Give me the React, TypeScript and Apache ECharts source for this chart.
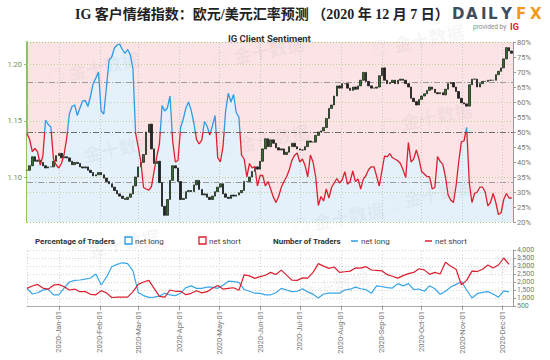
import React, { useEffect, useRef } from 'react';
import * as echarts from 'echarts';

const TITLE = 'IG 客户情绪指数：欧元/美元汇率预测 （2020 年 12 月 7 日）';
const SUBTITLE = 'IG Client Sentiment';
const RANGE_START = '2019-12-08';
const RANGE_END = '2020-12-09';
const MONTH_STARTS = ['2020-01-01', '2020-02-01', '2020-03-01', '2020-04-01', '2020-05-01', '2020-06-01', '2020-07-01', '2020-08-01', '2020-09-01', '2020-10-01', '2020-11-01', '2020-12-01'];
const MONTH_LABELS = ['2020-Jan-01', '2020-Feb-01', '2020-Mar-01', '2020-Apr-01', '2020-May-01', '2020-Jun-01', '2020-Jul-01', '2020-Aug-01', '2020-Sep-01', '2020-Oct-01', '2020-Nov-01', '2020-Dec-01'];

// sentiment + price sampled every 2 days from SENT_START
const SENT_START = '2019-12-08';
const SENT_STEP = 2;
const NET_LONG_PCT = [
  49.5, 47.5, 43.5, 44.5, 43.4, 39, 42, 54, 52.5, 51.7,
  41, 39, 38, 39.5, 42.5, 48, 56, 58.5, 59, 55.5,
  58, 60.3, 60.5, 58.5, 62, 66.2, 68, 70, 57, 56,
  65, 74, 75, 78, 79, 79.3, 77.5, 76.2, 77.5, 75.8,
  71, 49.6, 45, 40, 31.5, 31, 30.6, 31.8, 37, 41.8,
  46, 58.8, 57, 58, 62, 47, 40, 40.5, 51.5, 54.3,
  58, 60, 57.2, 53, 47.5, 46, 47.3, 53.5, 52, 49,
  52, 55.5, 41.5, 40, 45, 57, 62.9, 60, 62.5, 56.5,
  55, 42.3, 41, 35, 39.5, 38, 38.5, 32, 35.5, 35.5,
  32, 33.5, 31, 28.3, 26.5, 28.5, 31.5, 33.5, 35, 37.3,
  40.5, 42.2, 43, 40, 41, 38.8, 35, 42.3, 40, 35,
  25.5, 28.5, 27, 31, 28, 31.5, 33, 34.5, 33, 34,
  36.8, 32.6, 33.5, 37, 33.5, 34.3, 31, 34.3, 35.5, 37.5,
  38.4, 38.4, 35.3, 32, 37, 42, 41.7, 42.8, 41.4, 40.9,
  40.4, 39.5, 37.3, 34.8, 46.5, 40, 41, 44, 41, 36.8,
  36, 35.2, 35, 31, 31.5, 41.8, 40.2, 39.2, 35, 29,
  27.3, 26.5, 32, 40, 46.7, 47, 51.5, 33, 26.5, 29.5,
  30, 31.6, 31.6, 30, 25.4, 26.5, 29.5, 26.5, 22.5, 23,
  27.5, 29.5, 28, 28,
];
const EURUSD_CLOSE = [
  1.106, 1.110, 1.118, 1.114, 1.115, 1.113, 1.110, 1.108, 1.109, 1.109,
  1.114, 1.119, 1.121, 1.117, 1.118, 1.117, 1.114, 1.111, 1.113, 1.112,
  1.109, 1.108, 1.109, 1.106, 1.104, 1.101, 1.102, 1.104, 1.102, 1.099,
  1.096, 1.094, 1.091, 1.088, 1.085, 1.083, 1.081, 1.080, 1.082, 1.085,
  1.092, 1.100, 1.109, 1.113, 1.120, 1.140, 1.147, 1.125, 1.112, 1.114,
  1.095, 1.074, 1.066, 1.080, 1.097, 1.110, 1.108, 1.096, 1.080, 1.081,
  1.087, 1.088, 1.087, 1.093, 1.097, 1.089, 1.084, 1.085, 1.082, 1.080,
  1.083, 1.087, 1.091, 1.094, 1.085, 1.082, 1.081, 1.084, 1.083, 1.084,
  1.086, 1.088, 1.096, 1.096, 1.100, 1.105, 1.109, 1.107, 1.114, 1.125,
  1.134, 1.127, 1.133, 1.130, 1.126, 1.124, 1.125, 1.120, 1.122, 1.127,
  1.130, 1.127, 1.125, 1.124, 1.124, 1.127, 1.132, 1.131, 1.131, 1.137,
  1.140, 1.141, 1.144, 1.152, 1.161, 1.164, 1.172, 1.181, 1.179, 1.183,
  1.183, 1.179, 1.177, 1.180, 1.178, 1.181, 1.186, 1.193, 1.185, 1.181,
  1.179, 1.179, 1.180, 1.190, 1.197, 1.186, 1.183, 1.184, 1.186, 1.183,
  1.186, 1.187, 1.186, 1.183, 1.180, 1.170, 1.167, 1.164, 1.169, 1.172,
  1.174, 1.177, 1.180, 1.178, 1.175, 1.174, 1.175, 1.173, 1.178, 1.183,
  1.184, 1.180, 1.176, 1.170, 1.166, 1.165, 1.163, 1.182, 1.187, 1.187,
  1.180, 1.183, 1.185, 1.185, 1.186, 1.186, 1.186, 1.191, 1.194, 1.197,
  1.205, 1.215, 1.212, 1.210,
];

// number of traders sampled every 4 days from TRADERS_START
const TRADERS_START = '2019-12-08';
const TRADERS_STEP = 4;
const NET_LONG_TRADERS = [
  1604, 1250, 1330, 1490, 1560, 1190, 1190, 1620, 2000, 2100,
  2125, 2180, 2250, 2500, 1812, 2300, 2950, 3100, 3200, 3150,
  2700, 1350, 1150, 1040, 1050, 1120, 1300, 1190, 1150, 1300,
  1650, 1760, 1604, 1600, 1680, 1680, 1604, 1800, 2050, 2020,
  1980, 1530, 1420, 1300, 1290, 1200, 1200, 1330, 1600, 1500,
  1400, 1420, 1580, 1380, 1240, 1000, 1250, 1300, 1300, 1300,
  1500, 1550, 1680, 1580, 1520, 1292, 1760, 1720, 1650, 1620,
  1900, 1760, 1900, 1530, 1560, 1420, 1760, 1580, 1230, 1420,
  1690, 1850, 2020, 1500, 1000, 1270, 1350, 1396, 1250, 1050,
  1450, 1380,
];
const NET_SHORT_TRADERS = [
  1604, 1750, 1850, 1620, 1550, 1800, 1850, 1700, 1500, 1560,
  1396, 1400, 1230, 1200, 1450, 1320, 1030, 1060, 1050, 1050,
  1400, 1850, 2000, 2100, 1600, 1100, 1050, 1500, 1420, 1420,
  1210, 1292, 1450, 1320, 1396, 1604, 1780, 1560, 1604, 1640,
  1480, 2450, 2380, 2229, 2333, 2420, 2600, 2470, 2740, 2430,
  2120, 2100, 2260, 2240, 2600, 3150, 2990, 2854, 2940, 2600,
  2640, 2680, 2880, 2870, 2960, 2750, 2730, 2700, 2460, 2360,
  2240, 2400, 2520, 2600, 2830, 2760, 2480, 2600, 2500, 3240,
  2980, 2800, 1830, 2100, 2680, 2660, 2800, 3062, 2880, 3062,
  3500, 3100,
];

const PRICE_GRID = [1.10, 1.15, 1.20];
const PCT_DOTTED = [30, 60];
const PCT_THIRDS = [33.33, 66.67];
const PCT_MID = 50;
const LOGO_LETTERS = ['D', 'A', 'I', 'L', 'Y', 'F', 'X'];

const BLUE = '#2e9be6';
const RED = '#dc1f2e';

// days counted from 2019-12-01 (keeps every axis value positive)
const dayOf = (s: string) => {
  const [y, m, d] = s.split('-').map(Number);
  return (Date.UTC(y, m - 1, d) - Date.UTC(2019, 11, 1)) / 86400000;
};

export default function App() {
  const ref = useRef<HTMLDivElement>(null);
  useEffect(() => {
    if (!ref.current) return;
    const chart = echarts.init(ref.current, undefined, { renderer: 'svg' });
    const xMin = dayOf(RANGE_START);
    const xMax = dayOf(RANGE_END);
    const monthDays = MONTH_STARTS.map(dayOf);
    const s0 = dayOf(SENT_START);
    const t0 = dayOf(TRADERS_START);
    const pct = NET_LONG_PCT.map((v, i) => [s0 + i * SENT_STEP, v]);
    const candles = EURUSD_CLOSE.map((c, i) => {
      const o = i === 0 ? c : EURUSD_CLOSE[i - 1];
      return [s0 + i * SENT_STEP, o, c, Math.min(o, c), Math.max(o, c)];
    });
    const longT = NET_LONG_TRADERS.map((v, i) => [t0 + i * TRADERS_STEP, v]);
    const shortT = NET_SHORT_TRADERS.map((v, i) => [t0 + i * TRADERS_STEP, v]);
    const labelFor = (v: number) => {
      const i = monthDays.indexOf(Math.round(v));
      return i >= 0 ? MONTH_LABELS[i] : '';
    };
    const wm = (x: number, y: number) => ({
      type: 'text', x, y, rotation: 0.2, silent: true, z: 50,
      style: { text: '◎ 金十数据', fill: 'rgba(120,120,120,0.08)', font: 'bold 18px "Noto Sans CJK SC"' },
    });
    const txt = (x: number, y: number, text: string, font: string, fill: string, extra: any = {}) => ({
      type: 'text', x, y, silent: true, z: 100, ...extra,
      style: { text, font, fill, textVerticalAlign: 'middle' },
    });
    const dotted = (color: string) => ({ color, type: [1, 2], width: 1 });
    const dashDot = (color: string, width = 1) => ({ color, type: [6, 2, 1, 2], width });
    const logoX = [452, 466, 481, 488, 501, 516, 530];
    const logo = LOGO_LETTERS.map((ch, i) => txt(logoX[i], 14, ch, 'bold 15px "DejaVu Sans"', i < 5 ? '#3f4c5f' : '#f39a1e'));

    const option: any = {
      animation: false,
      backgroundColor: '#ffffff',
      grid: [
        { left: 27, top: 42, width: 486, height: 180, show: true, backgroundColor: '#fce3e6', borderWidth: 0 },
        { left: 27, top: 250, width: 486, height: 56, show: false },
      ],
      xAxis: [
        { type: 'value', gridIndex: 0, min: xMin, max: xMax, axisLine: { show: false }, axisTick: { show: false }, axisLabel: { show: false }, splitLine: { show: false } },
        {
          type: 'value', gridIndex: 1, min: xMin, max: xMax,
          axisLine: { show: true, lineStyle: { color: '#aaa', width: 1 } },
          axisTick: { show: true, customValues: monthDays, length: 4, lineStyle: { color: '#999' } },
          axisLabel: { show: true, customValues: monthDays, rotate: 90, fontSize: 7.5, color: '#777', fontFamily: 'Roboto', margin: 5, formatter: (v: number) => labelFor(v) },
          splitLine: { show: false },
        },
      ],
      yAxis: [
        {
          type: 'value', gridIndex: 0, position: 'left', min: 1.06, max: 1.22,
          axisLine: { show: true, lineStyle: { color: '#8fc166', width: 2 } },
          axisTick: { show: true, customValues: PRICE_GRID, length: 3, lineStyle: { color: '#8fc166' } },
          axisLabel: { show: true, customValues: PRICE_GRID, fontSize: 7.5, color: '#6f8f55', fontFamily: 'Roboto', margin: 5, formatter: (v: number) => v.toFixed(2) },
          splitLine: { show: false },
        },
        {
          type: 'value', gridIndex: 0, position: 'right', min: 20, max: 80, interval: 5,
          axisLine: { show: true, lineStyle: { color: '#999', width: 1 } },
          axisTick: { show: true, length: 3, lineStyle: { color: '#999' } },
          axisLabel: { show: true, fontSize: 7.5, color: '#777', fontFamily: 'Roboto', margin: 4, formatter: '{value}%' },
          splitLine: { show: false },
        },
        {
          type: 'value', gridIndex: 1, position: 'right', min: 500, max: 4000, interval: 500,
          axisLine: { show: true, lineStyle: { color: '#999', width: 1 } },
          axisTick: { show: true, length: 3, lineStyle: { color: '#999' } },
          axisLabel: { show: true, fontSize: 7, color: '#777', fontFamily: 'Roboto', margin: 4 },
          splitLine: { show: true, lineStyle: { color: '#d4d4d4', type: [1, 2], width: 1 } },
        },
      ],
      visualMap: [{
        type: 'piecewise', show: false, seriesIndex: 2, dimension: 1,
        pieces: [{ gt: PCT_MID, lte: 100, color: BLUE }, { gte: 0, lte: PCT_MID, color: RED }],
        outOfRange: { color: RED },
      }],
      series: [
        {
          type: 'line', xAxisIndex: 0, yAxisIndex: 1, data: pct, showSymbol: false, silent: true, z: 1,
          lineStyle: { width: 0, color: 'transparent' }, itemStyle: { color: '#e4f1fb' },
          areaStyle: { color: '#e4f1fb', opacity: 1, origin: 'start' },
          markLine: {
            z: 2, silent: true, symbol: ['none', 'none'], label: { show: false },
            data: [
              ...PCT_DOTTED.map((v) => ({ yAxis: v, lineStyle: dotted('#c9cfa6') })),
              ...PCT_THIRDS.map((v) => ({ yAxis: v, lineStyle: dashDot('#9a9a9a') })),
              { yAxis: PCT_MID, lineStyle: dashDot('#6e6e6e', 1.2) },
              ...monthDays.map((d) => ({ xAxis: d, lineStyle: dotted('#c8c8c8') })),
            ],
          },
        },
        {
          type: 'candlestick', xAxisIndex: 0, yAxisIndex: 0, data: candles, z: 3, silent: true,
          barWidth: 2, barMaxWidth: 2,
          itemStyle: { color: '#33702f', color0: '#242424', borderColor: '#1e2a1c', borderColor0: '#1a1a1a', borderWidth: 0.8 },
          markLine: {
            z: 2, silent: true, symbol: ['none', 'none'], label: { show: false },
            data: [
              ...PRICE_GRID.map((v) => ({ yAxis: v, lineStyle: dotted('#bfcf96') })),
              { yAxis: 1.2195, lineStyle: { ...dotted('#9cc47a'), width: 1.2 } },
              { yAxis: 1.0605, lineStyle: { ...dotted('#9cc47a'), width: 1.2 } },
            ],
          },
        },
        {
          type: 'line', xAxisIndex: 0, yAxisIndex: 1, data: pct, showSymbol: false, silent: true, z: 4,
          lineStyle: { width: 1.3 },
        },
        {
          type: 'line', xAxisIndex: 1, yAxisIndex: 2, data: longT, showSymbol: false, silent: true, z: 4,
          lineStyle: { width: 1.2, color: '#38a6ea' }, itemStyle: { color: '#38a6ea' },
          markLine: {
            z: 2, silent: true, symbol: ['none', 'none'], label: { show: false },
            data: [
              ...monthDays.map((d) => ({ xAxis: d, lineStyle: dotted('#d4d4d4') })),
              { xAxis: xMin + 0.3, lineStyle: dotted('#d4d4d4') },
            ],
          },
        },
        {
          type: 'line', xAxisIndex: 1, yAxisIndex: 2, data: shortT, showSymbol: false, silent: true, z: 4,
          lineStyle: { width: 1.2, color: RED }, itemStyle: { color: RED },
        },
      ],
      graphic: [
        txt(75, 14, TITLE, 'bold 14px "Liberation Serif", "Noto Sans CJK SC"', '#222'),
        ...logo,
        txt(473, 27, 'provided by', '6.5px Roboto', '#8a8a8a'),
        txt(510, 27, 'IG', 'bold 9px Roboto', '#e4202d'),
        txt(228, 38, SUBTITLE, 'bold 9.5px Roboto', '#333'),
        txt(35, 241, 'Percentage of Traders', 'bold 8px Roboto', '#333'),
        { type: 'rect', shape: { x: 125, y: 237, width: 7, height: 7 }, style: { fill: '#fff', stroke: BLUE, lineWidth: 1.3 }, silent: true, z: 100 },
        txt(135, 241, 'net long', '8px Roboto', '#444'),
        { type: 'rect', shape: { x: 199, y: 237, width: 7, height: 7 }, style: { fill: '#fff', stroke: RED, lineWidth: 1.3 }, silent: true, z: 100 },
        txt(209, 241, 'net short', '8px Roboto', '#444'),
        txt(273, 241, 'Number of Traders', 'bold 8px Roboto', '#333'),
        { type: 'line', shape: { x1: 351, y1: 241, x2: 358, y2: 241 }, style: { stroke: BLUE, lineWidth: 1.5 }, silent: true, z: 100 },
        txt(361, 241, 'net long', '8px Roboto', '#444'),
        { type: 'line', shape: { x1: 425, y1: 241, x2: 432, y2: 241 }, style: { stroke: RED, lineWidth: 1.5 }, silent: true, z: 100 },
        txt(435, 241, 'net short', '8px Roboto', '#444'),
        wm(45, 68), wm(210, 52), wm(370, 40), wm(60, 150), wm(215, 140), wm(378, 118),
        wm(380, 195), wm(65, 245), wm(290, 218), wm(440, 268), wm(275, 288),
      ],
    };
    chart.setOption(option);
    return () => chart.dispose();
  }, []);
  return <div ref={ref} style={{ position: 'fixed', left: 0, top: 0, width: 550, height: 360, background: '#fff' }} />;
}
